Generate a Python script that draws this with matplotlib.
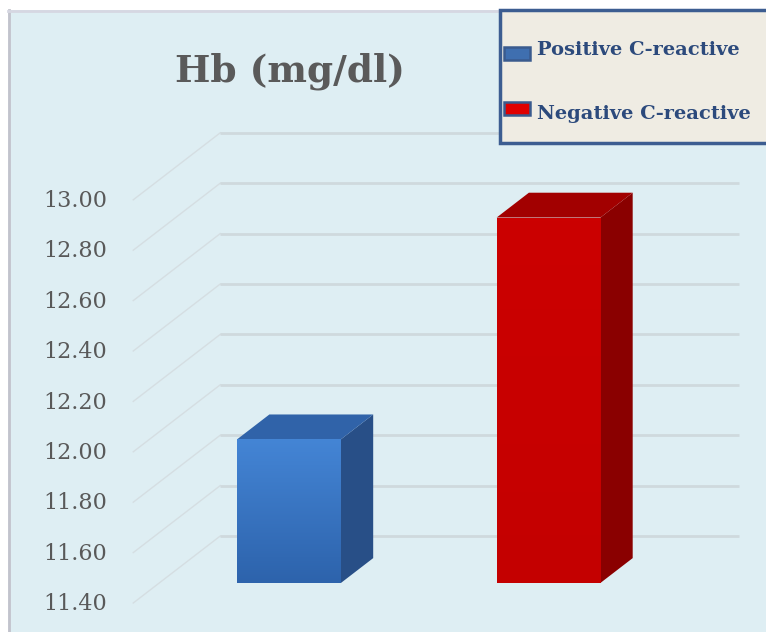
import numpy as np
import matplotlib.pyplot as plt
from matplotlib.patches import Polygon, Rectangle
from matplotlib.lines import Line2D
from matplotlib.colors import LinearSegmentedColormap

# data
groups = ['Positive C-reactive', 'Negative C-reactive']
hb_values = [11.97, 12.85]
tick_values = [11.40, 11.60, 11.80, 12.00, 12.20, 12.40, 12.60, 12.80, 13.00]

# styles
front_top = ['#4485d5', '#cc0000']
front_bottom = ['#2d63ac', '#c40000']
side_colors = ['#284f87', '#8a0000']
top_colors = ['#3063a9', '#a20000']
handle_colors = ['#3f6fb0', '#e00000']

W, H = 766, 632
fig = plt.figure(figsize=(W / 100, H / 100), dpi=100)
fig.patch.set_facecolor('white')

# chart area with thin border at left/top
fig.patches.append(Rectangle((8 / W, 0), 1, 1 - 10 / H, transform=fig.transFigure,
                             facecolor='#deeef3', edgecolor='none', zorder=-2))
fig.add_artist(Line2D([8.5 / W, 8.5 / W], [0, 1 - 10 / H], color='#c2c3cc', lw=2, zorder=-1))
fig.add_artist(Line2D([8 / W, 1], [1 - 10.5 / H, 1 - 10.5 / H], color='#d6d7e2', lw=2, zorder=-1))

ax = fig.add_axes([0, 0, 1, 1])
ax.set_facecolor('none')
ax.axis('off')

# pseudo 3D projection: front plane, depth offsets
px_cat, x0_px = 259.5, 263
px_val, y0_px = 252, 603
DX = 87 / px_cat
DY = 67 / px_val
y_min = tick_values[0]
x_left, x_right = -0.5, len(groups) - 0.5

for v in tick_values:
    ax.plot([x_left, x_left + DX], [v, v + DY], color='#d5dee2', lw=1, zorder=1)
    ax.plot([x_left + DX, x_right + DX], [v + DY, v + DY], color='#cfd9dd', lw=2,
            zorder=1, solid_capstyle='butt')
    ax.text(x_left - 0.1, v - 0.005, f'{v:.2f}', ha='right', va='center', fontsize=16,
            family='DejaVu Serif', color='#595959')

d0, d1 = 0.3, 0.67
bw = 0.4
ddx, ddy = (d1 - d0) * DX, (d1 - d0) * DY
for i, v in enumerate(hb_values):
    xc = i + d0 * DX
    xa, xb = xc - bw / 2, xc + bw / 2
    yb, yt = y_min + d0 * DY, v + d0 * DY
    bar = ax.bar(xc, v - y_min, width=bw, bottom=yb, color=front_bottom[i], zorder=4)[0]
    cmap = LinearSegmentedColormap.from_list('g', [front_bottom[i], front_top[i]])
    grad = np.linspace(0, 1, 100).reshape(-1, 1)
    im = ax.imshow(grad, extent=(xa, xb, yb, yt), origin='lower', aspect='auto',
                   cmap=cmap, zorder=4.5)
    im.set_clip_path(bar)
    ax.add_patch(Polygon([(xb, yb), (xb + ddx, yb + ddy), (xb + ddx, yt + ddy), (xb, yt)],
                         closed=True, facecolor=side_colors[i], edgecolor='none', zorder=4))
    ax.add_patch(Polygon([(xa, yt), (xa + ddx, yt + ddy), (xb + ddx, yt + ddy), (xb, yt)],
                         closed=True, facecolor=top_colors[i], edgecolor='none', zorder=4))

ax.set_xlim(-x0_px / px_cat, (W - x0_px) / px_cat)
ax.set_ylim(y_min - (H - y0_px) / px_val, y_min + y0_px / px_val)

# title
fig.text(290 / W, 1 - 82 / H, 'Hb (mg/dl)', ha='center', va='baseline', fontsize=27,
         fontweight='bold', family='DejaVu Serif', color='#5a5a5a')

# legend box
fig.patches.append(Rectangle((500 / W, 1 - 143 / H), 280 / W, 133 / H, transform=fig.transFigure,
                             facecolor='#efece3', edgecolor='#3c5d91', lw=2.5, zorder=5))
rows = [(47, 60, 55), (102, 115, 119)]
for (top, bot, base), label, c in zip(rows, groups, handle_colors):
    fig.patches.append(Rectangle((504 / W, 1 - bot / H), 26 / W, (bot - top) / H,
                                 transform=fig.transFigure, facecolor=c,
                                 edgecolor='#3a5b8e', lw=1.8, zorder=6))
    fig.text(537 / W, 1 - base / H, label, ha='left', va='baseline', fontsize=14,
             fontweight='bold', family='DejaVu Serif', color='#2c4a7c', zorder=6)

fig.savefig('out.png', dpi=100)
